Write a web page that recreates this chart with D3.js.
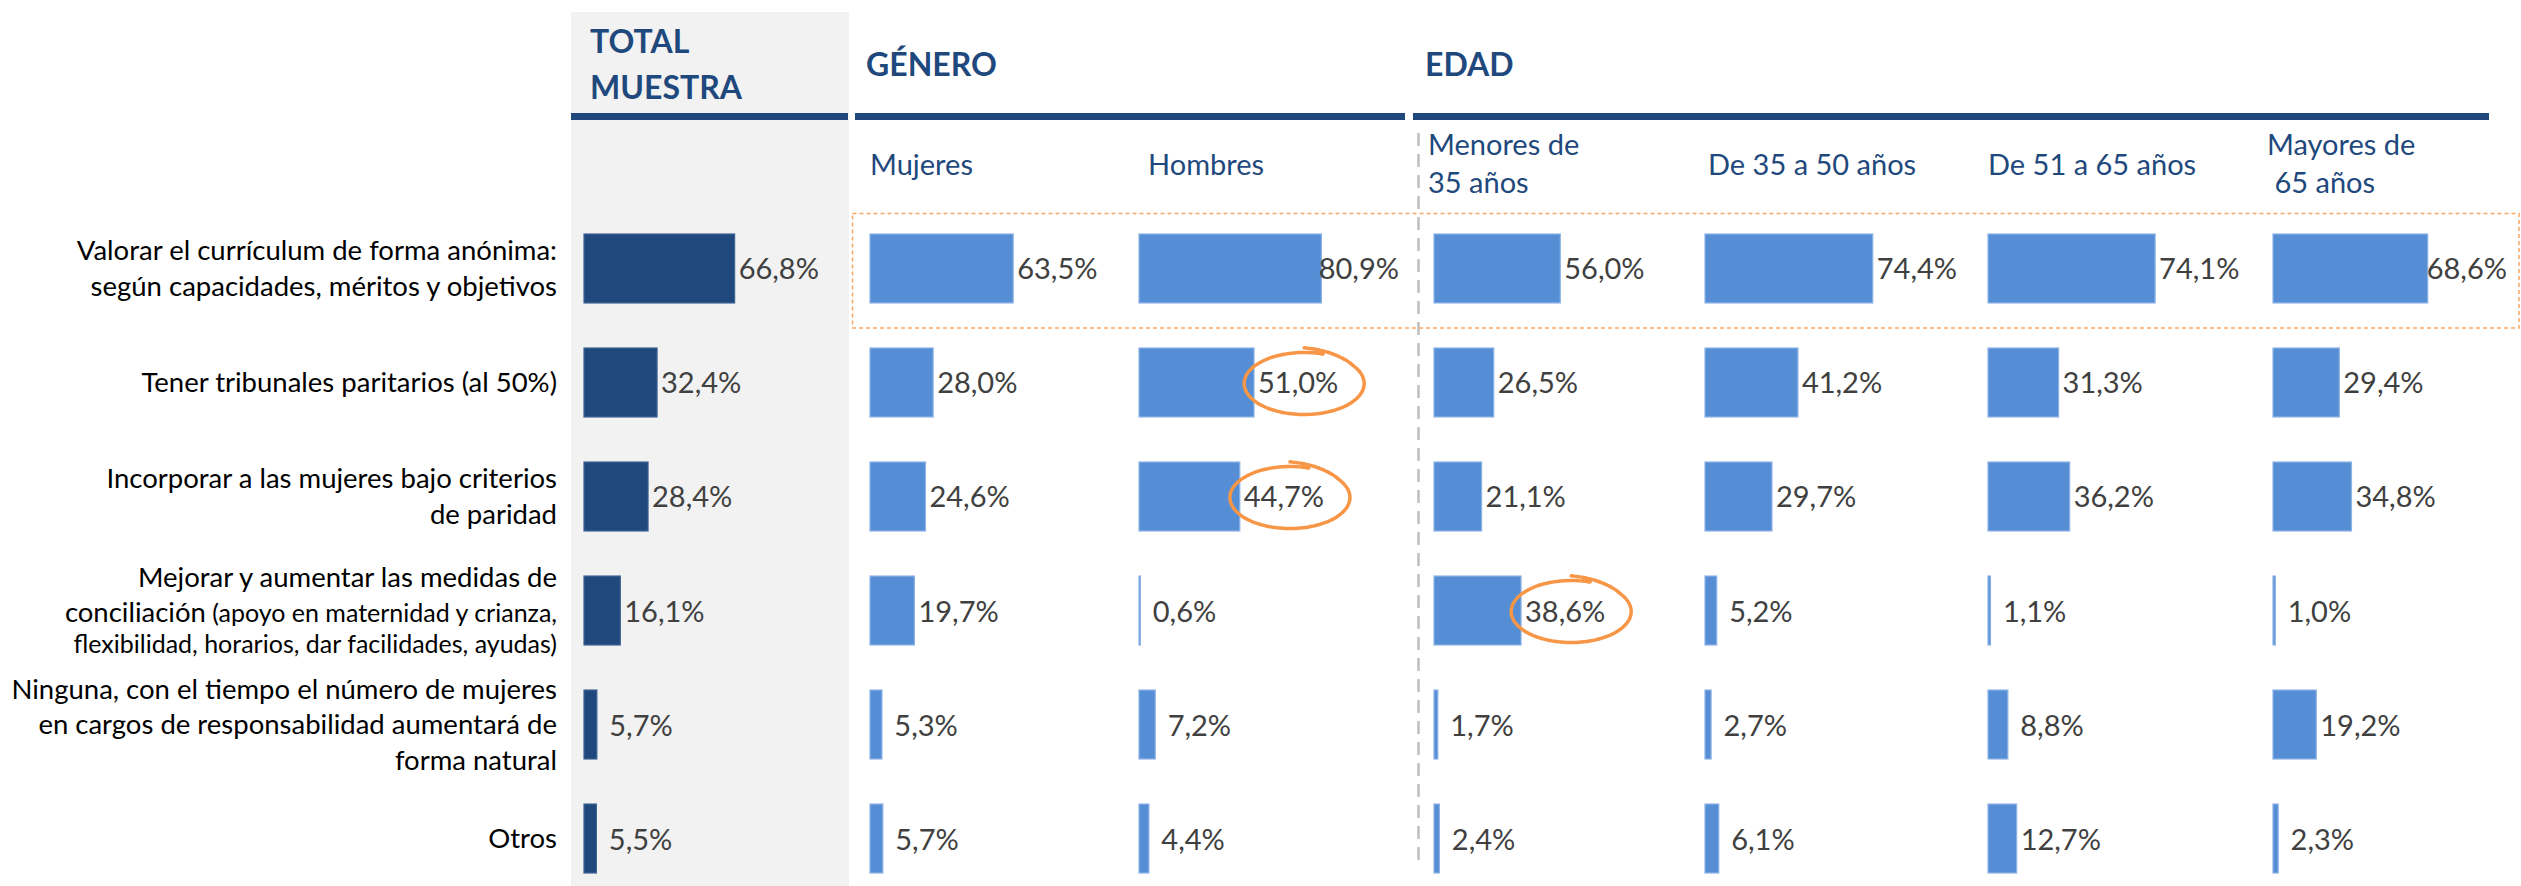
<!DOCTYPE html>
<html lang="es">
<head>
<meta charset="utf-8">
<title>Medidas para aumentar la presencia de mujeres</title>
<script src="https://cdn.jsdelivr.net/npm/d3@7"></script>
<style>
  html, body { margin: 0; padding: 0; background: #ffffff; }
  svg { display: block; }
  text { font-family: Lato, "Noto Sans", sans-serif; }
</style>
</head>
<body>
<svg id="chart"></svg>
<script>
// ---- data -------------------------------------------------------------
const categories = [
  [["Valorar el currículum de forma anónima:"], ["según capacidades, méritos y objetivos"]],
  [["Tener tribunales paritarios (al 50%)"]],
  [["Incorporar a las mujeres bajo criterios"], ["de paridad"]],
  [["Mejorar y aumentar las medidas de"],
   ["conciliación", " (apoyo en maternidad y crianza,"],
   [null, "flexibilidad, horarios, dar facilidades, ayudas)"]],
  [["Ninguna, con el tiempo el número de mujeres"],
   ["en cargos de responsabilidad aumentará de"],
   ["forma natural"]],
  [["Otros"]]
];

const groupTitles = [["TOTAL", "MUESTRA"], ["GÉNERO"], ["EDAD"]];
const seriesNames = ["Total muestra", "Mujeres", "Hombres", "Menores de 35 años",
                     "De 35 a 50 años", "De 51 a 65 años", "Mayores de 65 años"];
const seriesHeaders = [[], ["Mujeres"], ["Hombres"], ["Menores de", "35 años"],
                       ["De 35 a 50 años"], ["De 51 a 65 años"], ["Mayores de", " 65 años"]];

const totalMuestra = [66.8, 32.4, 28.4, 16.1, 5.7, 5.5];
const mujeres      = [63.5, 28.0, 24.6, 19.7, 5.3, 5.7];
const hombres      = [80.9, 51.0, 44.7, 0.6, 7.2, 4.4];
const menores35    = [56.0, 26.5, 21.1, 38.6, 1.7, 2.4];
const de35a50      = [74.4, 41.2, 29.7, 5.2, 2.7, 6.1];
const de51a65      = [74.1, 31.3, 36.2, 1.1, 8.8, 12.7];
const mayores65    = [68.6, 29.4, 34.8, 1.0, 19.2, 2.3];
const seriesValues = [totalMuestra, mujeres, hombres, menores35, de35a50, de51a65, mayores65];

// cells circled in orange: [series index, category index]
const highlighted = [[2, 1], [2, 2], [3, 3]];

// ---- layout -------------------------------------------------------------
const W = 2521, H = 886;
const colX      = [584, 870, 1139, 1434, 1705, 1988, 2273];   // bar origin of each column
const colLimit  = [848, 1130, 1399, 1690, 1975, 2260, 2507];  // right edge available for labels
const headX     = [null, 870, 1148, 1428, 1708, 1988, 2267];
const groupLayout = [
  { x: 590, baselines: [53, 99], line: [571, 848] },
  { x: 866, baselines: [76], line: [855, 1405] },
  { x: 1425, baselines: [76], line: [1413, 2489] }
];
const navy = "#1F497D", lightBlue = "#558ED5", orange = "#F79646", valueGrey = "#404040";

const svg = d3.select("#chart").attr("width", W).attr("height", H);

const y = d3.scaleBand()
  .domain(d3.range(categories.length))
  .range([234, 873])
  .paddingInner(0.395)
  .paddingOuter(0);

const x = d3.scaleLinear().domain([0, 100]).range([0, 225.5]);

const fmtNum = d3.formatLocale({ decimal: ",", thousands: ".", grouping: [3], currency: ["", "€"] }).format(".1f");
const fmt = v => fmtNum(v) + "%";

// grey panel behind the total column
svg.append("rect")
  .attr("x", 571).attr("y", 12).attr("width", 278).attr("height", H - 12)
  .attr("fill", "#F2F2F2");

// group titles and their rules
groupTitles.forEach((lines, i) => {
  const g = groupLayout[i];
  const t = svg.append("text")
    .attr("fill", navy).attr("font-weight", 700).attr("font-size", 32);
  lines.forEach((s, j) => t.append("tspan").attr("x", g.x).attr("y", g.baselines[j]).text(s));
  svg.append("rect")
    .attr("x", g.line[0]).attr("y", 113)
    .attr("width", g.line[1] - g.line[0]).attr("height", 7)
    .attr("fill", navy);
});

// column headers
seriesHeaders.forEach((lines, i) => {
  if (!lines.length) return;
  const base = lines.length === 1 ? [175] : [155, 193];
  const t = svg.append("text").attr("fill", navy).attr("font-size", 29)
    .attr("xml:space", "preserve").style("white-space", "pre");
  lines.forEach((s, j) => t.append("tspan").attr("x", headX[i]).attr("y", base[j]).text(s));
});

// dashed separator between gender and age
svg.append("line")
  .attr("x1", 1418.5).attr("x2", 1418.5).attr("y1", 133).attr("y2", 866)
  .attr("stroke", "#BFBFBF").attr("stroke-width", 2.5).attr("stroke-dasharray", "13,8");

// dashed frame around the first answer
svg.append("rect")
  .attr("x", 852.5).attr("y", 213.5).attr("width", 2519 - 852.5).attr("height", 328 - 213.5)
  .attr("fill", "none").attr("stroke", orange).attr("stroke-opacity", 0.85)
  .attr("stroke-width", 1.5).attr("stroke-dasharray", "4,3");

// category labels
const bigSize = 27.5, smallSize = 25;
categories.forEach((lines, r) => {
  const cy = y(r) + y.bandwidth() / 2;
  const steps = lines.map((ln, j) => j === 0 ? 0 : (ln[0] ? 35.5 : 31));
  const offsets = [];
  steps.reduce((acc, s, j) => (offsets[j] = acc + s), 0);
  const mid = (offsets[0] + offsets[offsets.length - 1]) / 2;
  const t = svg.append("text").attr("text-anchor", "end").attr("fill", "#000")
    .attr("xml:space", "preserve").style("white-space", "pre");
  lines.forEach((ln, j) => {
    const by = cy + 9.5 + offsets[j] - mid;
    const first = t.append("tspan").attr("x", 557).attr("y", by);
    if (ln[0]) {
      first.attr("font-size", bigSize).text(ln[0]);
      if (ln[1]) t.append("tspan").attr("font-size", smallSize).text(ln[1]);
    } else {
      first.attr("font-size", smallSize).text(ln[1]);
    }
  });
});

// bars and value labels
const valueSize = 29;
const probe = svg.append("text").attr("font-size", valueSize).text("00,0%");
const refW = probe.node().getComputedTextLength();
probe.remove();

const labelPos = {};
seriesValues.forEach((vals, s) => {
  const g = svg.append("g").attr("class", "series");
  g.selectAll("rect").data(vals).join("rect")
    .attr("x", colX[s])
    .attr("y", (d, r) => y(r))
    .attr("width", d => x(d))
    .attr("height", y.bandwidth())
    .attr("fill", s === 0 ? navy : lightBlue)
    .attr("stroke", s === 0 ? "#3E6393" : "#8DB3E5")
    .attr("stroke-width", 1.2);

  g.selectAll("text").data(vals).join("text")
    .attr("font-size", valueSize)
    .attr("fill", valueGrey)
    .attr("text-anchor", "middle")
    .attr("y", (d, r) => y(r) + y.bandwidth() / 2 + 11)
    .text(d => fmt(d))
    .each(function (d, r) {
      const w = this.getComputedTextLength();
      const cx = Math.min(colX[s] + x(d) + 4 + refW / 2, colLimit[s] - w / 2);
      d3.select(this).attr("x", cx);
      labelPos[s + "-" + r] = cx;
    });
});

// hand-drawn style orange rings around selected values
const ring = d3.line().curve(d3.curveCatmullRom);
highlighted.forEach(([s, r]) => {
  const cx = labelPos[s + "-" + r] + 6;
  const cy = y(r) + y.bandwidth() / 2 + 1;
  const rx = 60, ry = 31;
  const start = -1.25, sweep = 2 * Math.PI + 0.32;
  const pts = d3.range(0, 1.0001, 1 / 160).map(t => {
    const a = start - sweep * t;
    const grow = t > 0.85 ? 1 + 0.15 * Math.pow((t - 0.85) / 0.15, 1.3) : 1;
    return [cx + rx * grow * Math.cos(a), cy + ry * grow * Math.sin(a)];
  });
  svg.append("path")
    .attr("d", ring(pts))
    .attr("fill", "none")
    .attr("stroke", orange)
    .attr("stroke-width", 3.5)
    .attr("stroke-linecap", "round");
});
</script>
</body>
</html>
